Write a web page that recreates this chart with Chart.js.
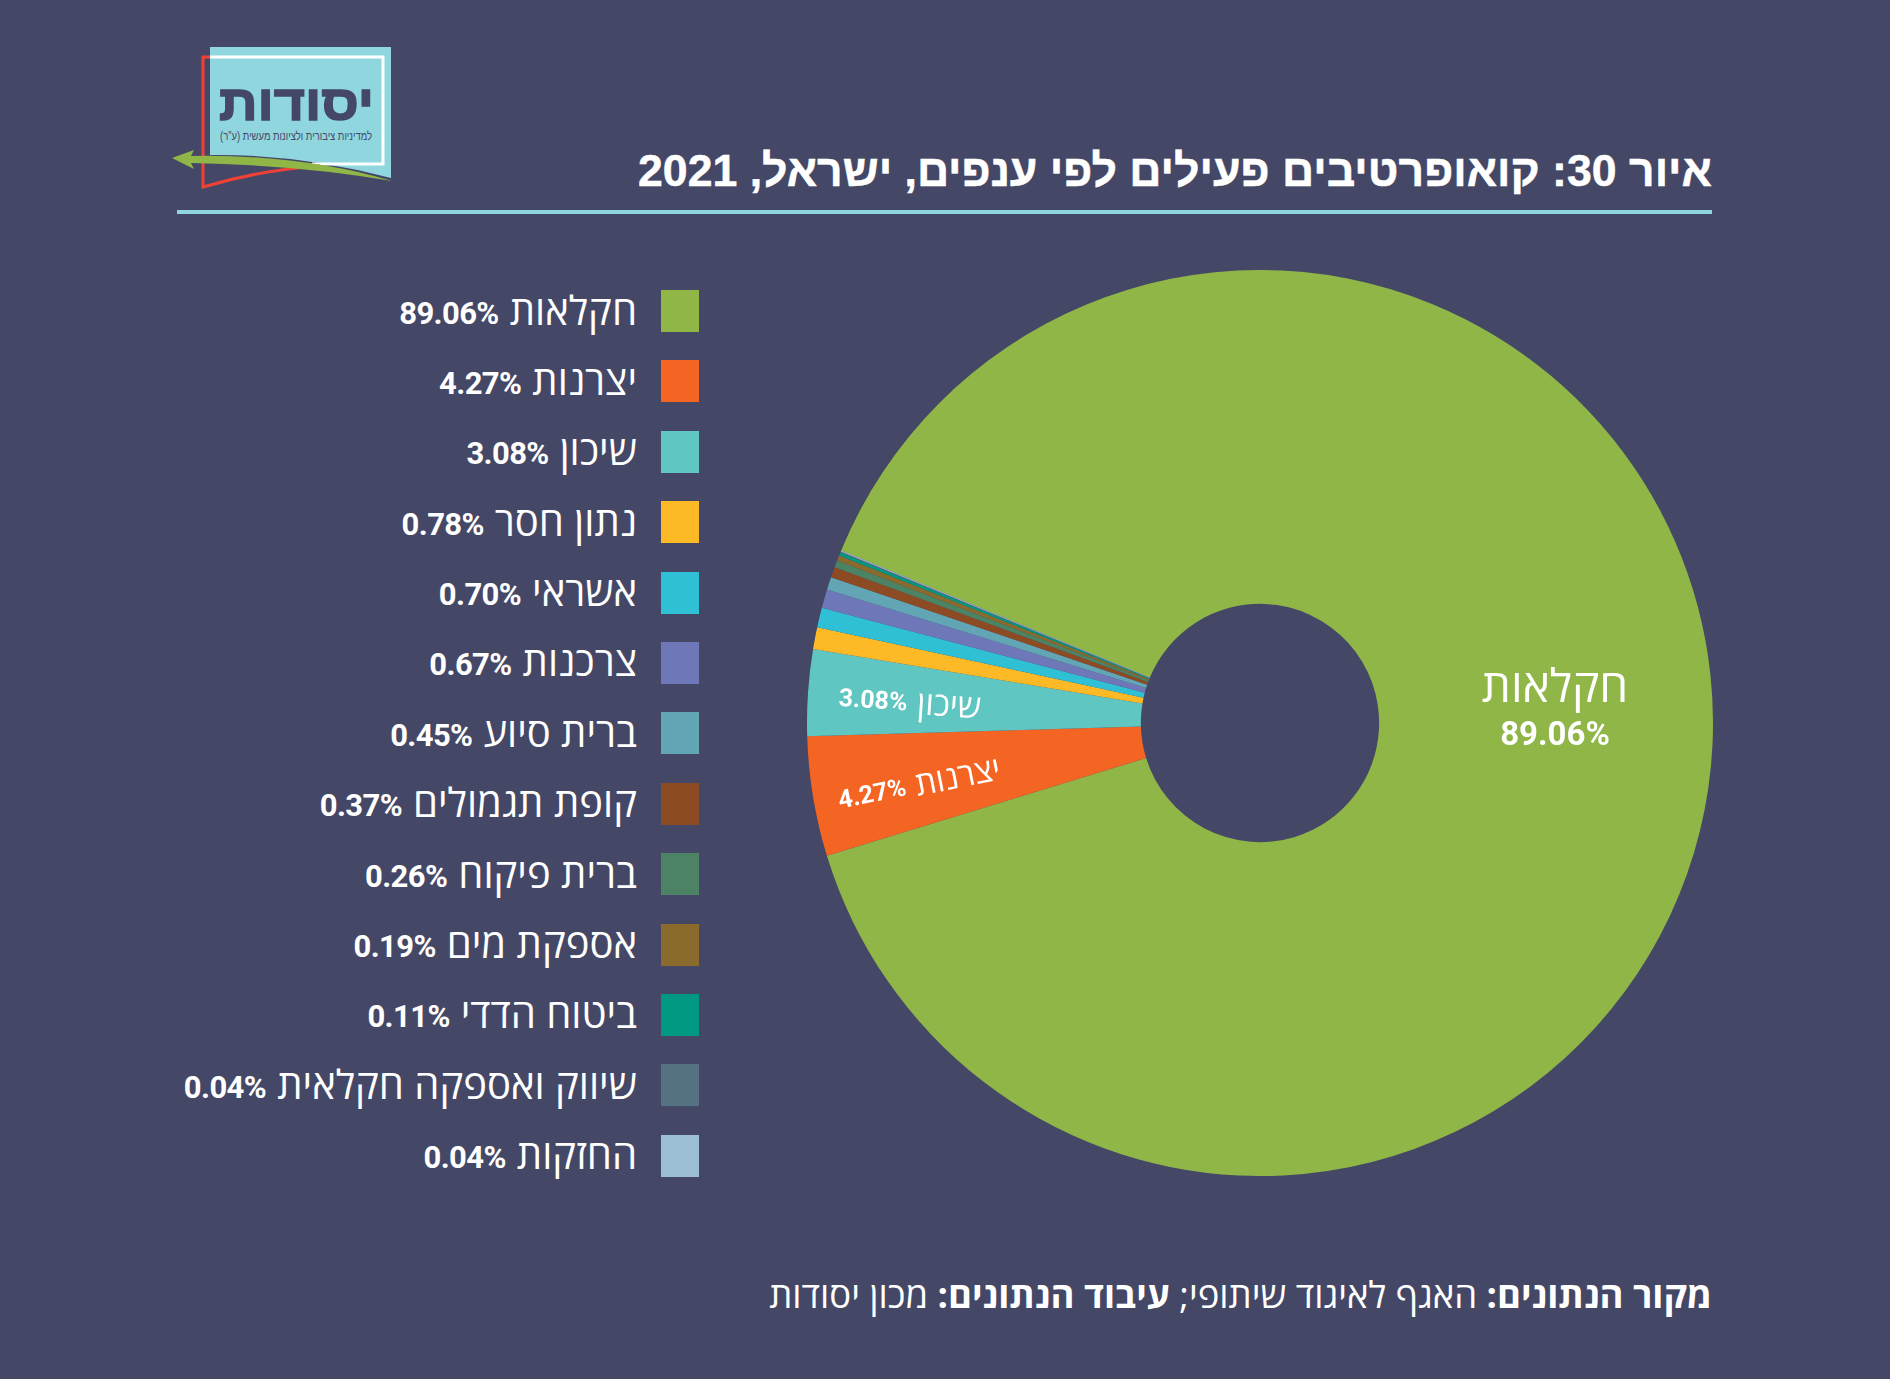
<!DOCTYPE html>
<html lang="he" dir="rtl">
<head>
<meta charset="utf-8">
<title>קואופרטיבים פעילים לפי ענפים</title>
<script src="https://cdn.jsdelivr.net/npm/chart.js@4"></script>
<style>
  html, body { margin: 0; padding: 0; background: #444866; }
  body { position: relative; width: 1890px; height: 1379px; overflow: hidden; color: #fff; font-family: "Open Sans", sans-serif; }
  #title { position: absolute; right: 178px; top: 146px; margin: 0; font: bold 44.6px "Liberation Sans", sans-serif; -webkit-text-stroke: 0.5px #fff; white-space: nowrap; }
  #rule { position: absolute; left: 177px; top: 210px; width: 1535px; height: 4px; background: #8fd6df; }
  #logo { position: absolute; left: 160px; top: 40px; }
  #chartWrap { position: absolute; left: 807px; top: 270px; width: 906px; height: 906px; }
  #legend { position: absolute; right: 1191px; top: 290px; }
  .row { display: flex; align-items: center; height: 42px; margin-bottom: 28.4px; white-space: nowrap; }
  .swatch { width: 38px; height: 42px; margin-left: 24px; flex: none; }
  .name { font-size: 40px; margin-left: 11px; position: relative; top: -2px; }
  .pct { font: bold 31px Roboto, sans-serif; letter-spacing: -0.6px; direction: ltr; position: relative; top: 2px; }
  #source { position: absolute; right: 178px; top: 1269px; font: 36.5px "Open Sans", sans-serif; white-space: nowrap; }
</style>
</head>
<body>
<svg id="logo" width="240" height="160" viewBox="160 40 240 160">
  <path d="M210 47 H391 V178 Q300 154 210 155 Z" fill="#90d6df"/>
  <path d="M210 57 H383 V164 H312" fill="none" stroke="#fff" stroke-width="3"/>
  <path d="M210 57 H203 V187 Q260 170 320 166" fill="none" stroke="#ef4136" stroke-width="3"/>
  <path d="M172 158 L194 150 L191 156 Q300 154 392 181 Q300 165 191 163 L194 169 Z" fill="#90b648"/>
  <text x="374" y="120" font-family="Liberation Sans" font-weight="bold" font-size="50" fill="#444866" stroke="#444866" stroke-width="1.5" textLength="155" lengthAdjust="spacingAndGlyphs">יסודות</text>
  <text x="372" y="140" font-family="Liberation Sans" font-size="12" fill="#444866" textLength="152" lengthAdjust="spacingAndGlyphs">למדיניות ציבורית ולציונות מעשית (ע"ר)</text>
</svg>
<h1 id="title">איור 30: קואופרטיבים פעילים לפי ענפים, ישראל, 2021</h1>
<div id="rule"></div>
<div id="legend"></div>
<div id="chartWrap"><canvas id="chart" width="906" height="906"></canvas></div>
<div id="source"><b>מקור הנתונים:</b> האגף לאיגוד שיתופי; <b>עיבוד הנתונים:</b> מכון יסודות</div>
<script>
const sectors = [
  { name: 'חקלאות', value: 89.06, color: '#90b648' },
  { name: 'יצרנות', value: 4.27, color: '#f46523', tilt: -2, r: 345, dy: 7 },
  { name: 'שיכון', value: 3.08, color: '#5fc6c1', tilt: 0, r: 351, dy: 5 },
  { name: 'נתון חסר', value: 0.78, color: '#feba26' },
  { name: 'אשראי', value: 0.70, color: '#30c0d6' },
  { name: 'צרכנות', value: 0.67, color: '#6e78b8' },
  { name: 'ברית סיוע', value: 0.45, color: '#62a6b5' },
  { name: 'קופת תגמולים', value: 0.37, color: '#8d4b24' },
  { name: 'ברית פיקוח', value: 0.26, color: '#4c8365' },
  { name: 'אספקת מים', value: 0.19, color: '#8a6b2b' },
  { name: 'ביטוח הדדי', value: 0.11, color: '#009880' },
  { name: 'שיווק ואספקה חקלאית', value: 0.04, color: '#547282' },
  { name: 'החזקות', value: 0.04, color: '#9cbfd6' },
];

const legendEl = document.getElementById('legend');
for (const s of sectors) {
  const row = document.createElement('div');
  row.className = 'row';
  row.innerHTML = `<span class="swatch" style="background:${s.color}"></span>` +
    `<span class="name">${s.name}</span><span class="pct">${s.value.toFixed(2)}%</span>`;
  legendEl.appendChild(row);
}

// name + percent on the two big slices, along the slice's own radius
function drawInline(ctx, name, pct, nameSize, pctSize) {
  ctx.font = `${nameSize}px "Open Sans"`;
  const nameW = ctx.measureText(name).width;
  ctx.font = `bold ${pctSize}px Roboto`;
  const pctW = ctx.measureText(pct).width;
  const gap = 10;
  const left = -(nameW + gap + pctW) / 2;
  ctx.textAlign = 'left';
  ctx.fillText(pct, left, 0);
  ctx.font = `${nameSize}px "Open Sans"`;
  ctx.fillText(name, left + pctW + gap, 0);
}

const sliceLabels = {
  id: 'sliceLabels',
  afterDatasetsDraw(chart) {
    const { ctx } = chart;
    const arcs = chart.getDatasetMeta(0).data;
    ctx.save();
    ctx.fillStyle = '#fff';
    ctx.textBaseline = 'middle';

    const big = arcs[0].getProps(['x', 'y']);
    ctx.textAlign = 'center';
    ctx.font = '46px "Open Sans"';
    ctx.fillText(sectors[0].name, big.x + 295, big.y - 34);
    ctx.font = 'bold 33px Roboto';
    ctx.fillText(sectors[0].value.toFixed(2) + '%', big.x + 295, big.y + 14);

    for (const i of [1, 2]) {
      const s = sectors[i];
      const a = arcs[i].getProps(['x', 'y', 'startAngle', 'endAngle']);
      const mid = (a.startAngle + a.endAngle) / 2;
      ctx.save();
      ctx.translate(a.x + Math.cos(mid) * s.r, a.y + Math.sin(mid) * s.r + s.dy);
      ctx.rotate(mid - Math.PI + s.tilt * Math.PI / 180);
      drawInline(ctx, s.name, s.value.toFixed(2) + '%', 33, 25);
      ctx.restore();
    }
    ctx.restore();
  },
};

new Chart(document.getElementById('chart'), {
  type: 'doughnut',
  data: {
    labels: sectors.map(s => s.name),
    datasets: [{
      data: sectors.map(s => s.value),
      backgroundColor: sectors.map(s => s.color),
      borderWidth: 0,
    }],
  },
  options: {
    responsive: false,
    animation: false,
    rotation: 292.4,
    cutout: '26.3%',
    layout: { padding: 0 },
    plugins: { legend: { display: false }, tooltip: { enabled: false } },
  },
  plugins: [sliceLabels],
});
</script>
</body>
</html>
